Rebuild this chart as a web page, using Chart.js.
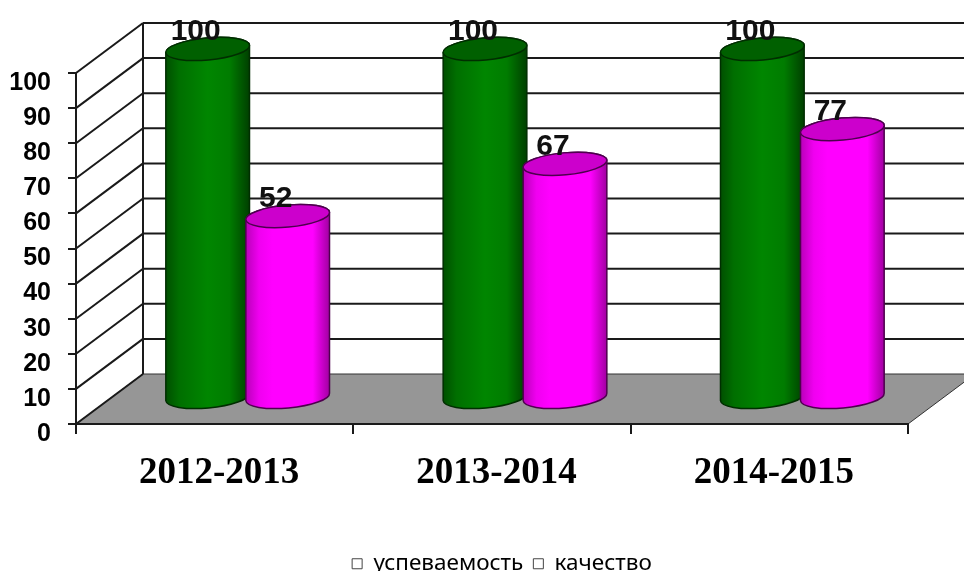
<!DOCTYPE html>
<html>
<head>
<meta charset="utf-8">
<script src="https://cdn.jsdelivr.net/npm/chart.js@4"></script>
<style>
  html, body { margin: 0; padding: 0; background: #fff; }
  canvas { display: block; }
</style>
</head>
<body>
<canvas id="grafico" width="964" height="571"></canvas>
<script>
const categorias = ["2012-2013", "2013-2014", "2014-2015"];
const uspevaemost = [100, 100, 100];
const kachestvo = [52, 67, 77];
const ticksY = [0, 10, 20, 30, 40, 50, 60, 70, 80, 90, 100];
const nomesSeries = ["успеваемость", "качество"];

//deslocamento da parede do fundo em relacao ao eixo da frente
const fundoX = 67;
const fundoY = 50;
//as colunas ficam no meio do piso
const colunaX = 33;
const raioElipse = 11;
const giroElipse = -0.09;

const estilos = [
  {
    lado: [[0, "#004f00"], [0.16, "#006f00"], [0.5, "#008600"], [0.76, "#007c00"], [1, "#003f00"]],
    topo: "#006000",
    linha: "#002e00",
  },
  {
    lado: [[0, "#b800b8"], [0.16, "#f000f0"], [0.32, "#ff00ff"], [0.8, "#ff00ff"], [1, "#a000a0"]],
    topo: "#cc00cc",
    linha: "#4e004e",
  },
];

function gradiente(ctx, esq, dir, paradas) {
  const g = ctx.createLinearGradient(esq, 0, dir, 0);
  paradas.forEach((p) => g.addColorStop(p[0], p[1]));
  return g;
}

function desenharCilindro(ctx, barra, estilo) {
  const x = barra.x + colunaX;
  const rx = barra.width / 2;

  ctx.save();
  ctx.beginPath();
  ctx.ellipse(x, barra.y, rx, raioElipse, giroElipse, Math.PI, 0, false);
  ctx.ellipse(x, barra.base, rx, raioElipse, giroElipse, 0, Math.PI, false);
  ctx.closePath();
  ctx.fillStyle = gradiente(ctx, x - rx, x + rx, estilo.lado);
  ctx.fill();
  ctx.strokeStyle = estilo.linha;
  ctx.lineWidth = 1.5;
  ctx.stroke();

  ctx.beginPath();
  ctx.ellipse(x, barra.y, rx, raioElipse, giroElipse, 0, Math.PI * 2);
  ctx.fillStyle = estilo.topo;
  ctx.fill();
  ctx.stroke();
  ctx.restore();
}

const cena3d = {
  id: "cena3d",

  afterLayout(chart) {
    //a legenda do original nao fica centrada no canvas
    const legenda = chart.legend;
    legenda.left += 48;
    legenda.right += 48;
    legenda.top += 14;
    legenda.bottom += 14;
  },

  beforeDraw(chart) {
    const ctx = chart.ctx;
    const y = chart.scales.y;
    const esq = chart.chartArea.left;
    const dir = chart.chartArea.right;
    const base = y.getPixelForValue(0);
    const topo = y.getPixelForValue(100);

    ctx.save();
    //piso
    ctx.beginPath();
    ctx.moveTo(esq, base);
    ctx.lineTo(esq + fundoX, base - fundoY);
    ctx.lineTo(dir + fundoX, base - fundoY);
    ctx.lineTo(dir, base);
    ctx.closePath();
    ctx.fillStyle = "#969696";
    ctx.fill();
    ctx.strokeStyle = "#333";
    ctx.lineWidth = 1;
    ctx.stroke();

    //linhas das paredes
    ctx.strokeStyle = "#1a1a1a";
    ticksY.forEach((valor) => {
      const py = y.getPixelForValue(valor);
      ctx.lineWidth = 2;
      ctx.beginPath();
      ctx.moveTo(esq, py);
      ctx.lineTo(esq + fundoX, py - fundoY);
      ctx.stroke();
      if (valor > 0) {
        ctx.beginPath();
        ctx.moveTo(esq + fundoX, py - fundoY);
        ctx.lineTo(chart.width, py - fundoY);
        ctx.stroke();
      }
    });

    ctx.lineWidth = 2;
    ctx.beginPath();
    ctx.moveTo(esq + fundoX, topo - fundoY);
    ctx.lineTo(esq + fundoX, base - fundoY);
    ctx.stroke();
    ctx.restore();
  },

  beforeDatasetsDraw(chart) {
    const ctx = chart.ctx;
    //verde primeiro, o rosa fica na frente
    chart.data.datasets.forEach((ds, i) => {
      chart.getDatasetMeta(i).data.forEach((barra) => desenharCilindro(ctx, barra, estilos[i]));
    });

    //valores em cima das colunas
    ctx.save();
    ctx.font = "bold 30px 'Liberation Sans'";
    ctx.fillStyle = "#111";
    ctx.textAlign = "center";
    ctx.textBaseline = "alphabetic";
    chart.data.datasets.forEach((ds, i) => {
      chart.getDatasetMeta(i).data.forEach((barra, j) => {
        ctx.fillText(ds.data[j], barra.x + colunaX - 12, barra.y - 9);
      });
    });
    ctx.restore();
    return false;
  },
};

new Chart(document.getElementById("grafico"), {
  type: "bar",
  plugins: [cena3d],
  data: {
    labels: categorias,
    datasets: [
      { label: nomesSeries[0], data: uspevaemost, yAxisID: "yColunas", backgroundColor: "#008a00" },
      { label: nomesSeries[1], data: kachestvo, yAxisID: "yColunas", backgroundColor: "#ff00ff" },
    ],
  },
  options: {
    responsive: false,
    animation: false,
    categoryPercentage: 0.577,
    barPercentage: 1.05,
    layout: { padding: { top: 73, right: 56, left: 0, bottom: 0 } },
    plugins: {
      title: { display: false },
      tooltip: { enabled: false },
      legend: {
        position: "bottom",
        labels: {
          color: "#333",
          boxWidth: 10,
          boxHeight: 10,
          padding: 10,
          font: { family: "'Noto Sans'", size: 22.5 },
          generateLabels: (chart) =>
            chart.data.datasets.map((ds, i) => ({
              text: ds.label,
              fillStyle: "#fff",
              strokeStyle: "#444",
              lineWidth: 1,
              datasetIndex: i,
            })),
        },
      },
    },
    scales: {
      x: {
        grid: { drawOnChartArea: false, color: "#1a1a1a", lineWidth: 2, tickLength: 10 },
        border: { color: "#1a1a1a", width: 2 },
        ticks: {
          color: "#000",
          padding: 17,
          labelOffset: 4.5,
          maxRotation: 0,
          font: { family: "'Liberation Serif'", size: 37, weight: "bold" },
        },
        afterFit: (escala) => {
          escala.height = 147 - escala.chart.legend.height;
        },
      },
      y: {
        min: 0,
        max: 100,
        afterBuildTicks: (escala) => {
          escala.ticks = ticksY.map((value) => ({ value }));
        },
        grid: { drawOnChartArea: false, color: "#1a1a1a", lineWidth: 2, tickLength: 8 },
        border: { color: "#1a1a1a", width: 2 },
        ticks: {
          color: "#000",
          padding: 17,
          labelOffset: 10,
          autoSkip: false,
          font: { family: "'Liberation Sans'", size: 25, weight: "bold" },
        },
        afterFit: (escala) => {
          escala.width = 76;
        },
      },
      //eixo das colunas, com a escala propria do meio do piso
      yColunas: {
        display: false,
        min: -7.76,
        max: 93.1,
      },
    },
  },
});
</script>
</body>
</html>
